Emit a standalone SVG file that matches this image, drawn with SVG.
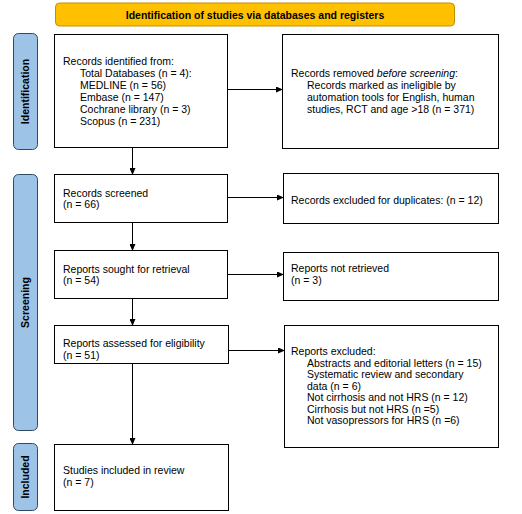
<svg xmlns="http://www.w3.org/2000/svg" width="522" height="514" viewBox="0 0 522 514">
<style>
text{font-family:"Liberation Sans",Arial,sans-serif;font-size:10.5px;fill:#000}
.box{fill:#fff;stroke:#000;stroke-width:1}
.side{fill:#9DC3E6;stroke:#2E4A66;stroke-width:1}
.sidet{font-weight:bold;font-size:10.5px;text-anchor:middle}
.hdr{fill:#FFC000;stroke:#C09000;stroke-width:1}
.hdrt{font-weight:bold;font-size:10.5px;text-anchor:middle}
.conn line{stroke:#000;stroke-width:1;fill:none}
</style>
<defs>
<marker id="ah" markerWidth="7" markerHeight="6" refX="6" refY="3" orient="auto" markerUnits="userSpaceOnUse">
<path d="M0,0 L7,3 L0,6 Z" fill="#000"/>
</marker>
</defs>
<rect width="522" height="514" fill="#fff"/>
<g id="header">
<rect class="hdr" x="55.5" y="3" width="399" height="23" rx="4"/>
<text class="hdrt" x="255" y="18.5">Identification of studies via databases and registers</text>
</g>
<g id="side-identification">
<rect class="side" x="13.5" y="33.5" width="24" height="116" rx="5"/>
<text class="sidet" transform="translate(29,91.5) rotate(-90)">Identification</text>
</g>
<g id="side-screening">
<rect class="side" x="13.5" y="174.5" width="24" height="256" rx="5"/>
<text class="sidet" transform="translate(29,302.5) rotate(-90)">Screening</text>
</g>
<g id="side-included">
<rect class="side" x="13.5" y="443.5" width="24" height="67" rx="5"/>
<text class="sidet" transform="translate(29,477) rotate(-90)">Included</text>
</g>
<g id="records-identified">
<rect class="box" x="54.5" y="34.5" width="173" height="113"/>
<text x="63" y="65">Records identified from:</text>
<text x="80" y="77">Total Databases (n = 4):</text>
<text x="80" y="89">MEDLINE (n = 56)</text>
<text x="80" y="101">Embase (n = 147)</text>
<text x="80" y="113">Cochrane library (n = 3)</text>
<text x="80" y="125">Scopus (n = 231)</text>
</g>
<g id="records-removed">
<rect class="box" x="282.5" y="34.5" width="216" height="114"/>
<text x="291" y="77">Records removed <tspan font-style="italic">before screening</tspan>:</text>
<text x="307" y="89">Records marked as ineligible by</text>
<text x="307" y="101">automation tools for English, human</text>
<text x="307" y="113">studies, RCT and age &gt;18 (n = 371)</text>
</g>
<g id="records-screened">
<rect class="box" x="54.5" y="174.5" width="173" height="48"/>
<text x="63" y="196.5">Records screened</text>
<text x="63" y="208">(n = 66)</text>
</g>
<g id="records-excluded">
<rect class="box" x="283.5" y="173.5" width="215" height="50"/>
<text x="291" y="203.5">Records excluded for duplicates: (n = 12)</text>
</g>
<g id="reports-sought">
<rect class="box" x="54.5" y="250.5" width="173" height="48"/>
<text x="63" y="272.5">Reports sought for retrieval</text>
<text x="63" y="284">(n = 54)</text>
</g>
<g id="reports-not-retrieved">
<rect class="box" x="283.5" y="252.5" width="215" height="48"/>
<text x="291" y="272">Reports not retrieved</text>
<text x="291" y="283.5">(n = 3)</text>
</g>
<g id="reports-assessed">
<rect class="box" x="54.5" y="325.5" width="174" height="38"/>
<text x="63" y="347">Reports assessed for eligibility</text>
<text x="63" y="358.5">(n = 51)</text>
</g>
<g id="reports-excluded">
<rect class="box" x="284.5" y="325.5" width="214" height="122"/>
<text x="291" y="355">Reports excluded:</text>
<text x="307" y="366.5">Abstracts and editorial letters (n = 15)</text>
<text x="307" y="378">Systematic review and secondary</text>
<text x="307" y="389.5">data (n = 6)</text>
<text x="307" y="401">Not cirrhosis and not HRS (n = 12)</text>
<text x="307" y="412.5">Cirrhosis but not HRS (n =5)</text>
<text x="307" y="424">Not vasopressors for HRS (n =6)</text>
</g>
<g id="studies-included">
<rect class="box" x="54.5" y="444.5" width="174" height="66"/>
<text x="63" y="474">Studies included in review</text>
<text x="63" y="485.5">(n = 7)</text>
</g>
<g id="connectors" class="conn">
<line x1="228" y1="89.5" x2="282" y2="89.5" marker-end="url(#ah)"/>
<line x1="132.5" y1="148" x2="132.5" y2="174" marker-end="url(#ah)"/>
<line x1="228" y1="197.5" x2="283" y2="197.5" marker-end="url(#ah)"/>
<line x1="132.5" y1="223" x2="132.5" y2="250" marker-end="url(#ah)"/>
<line x1="228" y1="274.5" x2="283" y2="274.5" marker-end="url(#ah)"/>
<line x1="132.5" y1="299" x2="132.5" y2="325" marker-end="url(#ah)"/>
<line x1="229" y1="350.5" x2="284" y2="350.5" marker-end="url(#ah)"/>
<line x1="132.5" y1="364" x2="132.5" y2="444" marker-end="url(#ah)"/>
</g>
</svg>
